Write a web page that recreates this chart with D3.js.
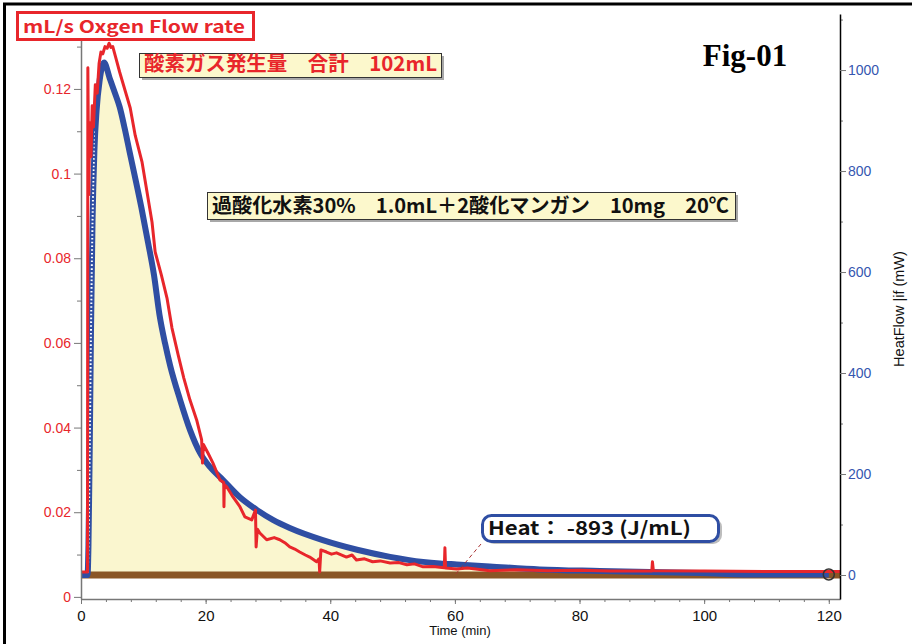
<!DOCTYPE html>
<html>
<head>
<meta charset="utf-8">
<script src="https://cdn.jsdelivr.net/npm/d3@7"></script>
<style>
  html, body { margin: 0; padding: 0; background: #fff; }
  svg { display: block; }
</style>
</head>
<body>
<div id="chart"></div>
<script>
// Oxygen flow rate (mL/s, left axis) - time in minutes
const oxyTime = [0, 1.04, 1.1, 1.25, 1.4, 1.6, 1.8, 2.0, 2.3, 2.6, 2.9, 3.2, 3.5, 3.85, 4.2, 4.5, 4.8, 5.1, 5.6, 6.2,
  7.3, 7.9, 8.7, 9.8, 10.6, 11.4, 11.9, 12.9, 13.8, 14.6, 15.6, 16.5, 17.49, 18.56, 19.36, 19.5, 19.65, 20.37,
  21.18, 22.3, 22.9, 22.94, 23.0, 23.38, 24.39, 25.5, 26.3, 27.4, 28.0, 28.1, 28.3, 28.7, 29.8, 31.0, 31.9, 32.7,
  33.5, 34.3, 35.1, 36.0, 36.7, 37.8, 38.2, 38.3, 38.5, 39.4, 40.2, 41.0, 42.6, 43.5, 44.2, 45.5, 46.8, 48.0, 49.6,
  51.0, 52.3, 53.5, 54.9, 56.5, 58.3, 58.4, 58.5, 60.3, 62, 65.6, 70, 75, 80, 85, 90, 91.6, 91.7, 91.85, 100, 110, 121.8];
const oxyRate = [0.0059, 0.0059, 0.125, 0.095, 0.112, 0.104, 0.116, 0.111, 0.121, 0.119, 0.126, 0.1287, 0.1283, 0.1300,
  0.1296, 0.1308, 0.1298, 0.1300, 0.1273, 0.124, 0.1185, 0.1155, 0.109, 0.1027, 0.0956, 0.0885, 0.0815, 0.076, 0.0706,
  0.0635, 0.0571, 0.0517, 0.0465, 0.0418, 0.0371, 0.0316, 0.036, 0.034, 0.0316, 0.0276, 0.027, 0.0213, 0.0265, 0.026,
  0.0236, 0.0213, 0.0189, 0.0182, 0.0205, 0.0118, 0.016, 0.0151, 0.0135, 0.014, 0.0135, 0.0128, 0.0118, 0.0113, 0.0106,
  0.0099, 0.0094, 0.0083, 0.009, 0.0059, 0.0111, 0.0106, 0.0101, 0.0104, 0.0094, 0.0099, 0.0087, 0.009, 0.0083, 0.0085,
  0.008, 0.0081, 0.0076, 0.0078, 0.0071, 0.0072, 0.0069, 0.0116, 0.0068, 0.0066, 0.0068, 0.0062, 0.0064, 0.0062, 0.0063,
  0.0061, 0.0061, 0.0061, 0.0083, 0.0062, 0.0061, 0.006, 0.006];

// Heat flow (mW, right axis)
const heatTime = [0, 1.05, 1.2, 1.4, 1.6, 1.85, 2.15, 2.5, 3.0, 3.7, 4.6, 5.4, 6.2, 7.0, 7.8, 8.6, 9.7, 10.75, 11.7,
  12.6, 13.5, 14.3, 15.9, 17.5, 19.1, 20.7, 22.8, 25.5, 28.2, 30.8, 33.5, 38.8, 44.3, 49.6, 54.9, 57.6, 60.3, 65.6, 73.6,
  83.3, 99.3, 109, 120];
const heatFlow = [0, 0, 60, 250, 480, 700, 840, 920, 980, 1015, 984, 956, 927, 885, 838, 792, 727, 659, 595,
  515, 458, 415, 347, 287, 242, 214, 188, 154, 129, 109, 93, 69, 50, 36, 26, 23, 21, 17, 11, 8, 4, 1, 1];

// baseline
const baseTime = [0, 121.8];
const baseFlow = [0, 0];

const xTicks = [0, 20, 40, 60, 80, 100, 120];
const xMinor = d3.range(0, 121, 4);
const leftTicks = [0, 0.02, 0.04, 0.06, 0.08, 0.1, 0.12];
const leftLabels = ["0", "0.02", "0.04", "0.06", "0.08", "0.1", "0.12"];
const leftMinor = [0.01, 0.03, 0.05, 0.07, 0.09, 0.11, 0.13];
const rightTicks = [0, 200, 400, 600, 800, 1000];
const rightMinor = [100, 300, 500, 700, 900, 1100];

const W = 912, H = 644;
const RED = "#e8262b", BLUE = "#2f4ea3";
const JP = "'Noto Sans CJK JP', 'Noto Sans', sans-serif";
const SANS = "'Liberation Sans', Arial, sans-serif";

const svg = d3.select("#chart").append("svg").attr("width", W).attr("height", H);

const x = d3.scaleLinear().domain([0, 121.8]).range([81, 840]);
const yL = d3.scaleLinear().domain([-0.0005, 0.1377]).range([599, 14]);
const yR = d3.scaleLinear().domain([-47.5, 1111]).range([599, 14]);

// outer frame
svg.append("rect").attr("x", 4.5).attr("y", 4).attr("width", 1200).attr("height", 1200)
  .attr("fill", "none").attr("stroke", "#000").attr("stroke-width", 3);

const heat = heatTime.map((t, i) => ({ t, v: heatFlow[i] }));
const oxy = oxyTime.map((t, i) => ({ t, v: oxyRate[i] }));
const base = baseTime.map((t, i) => ({ t, v: baseFlow[i] }));

// yellow fill under heat flow
svg.append("path").datum(heat)
  .attr("fill", "#faf6cf")
  .attr("d", d3.area().curve(d3.curveMonotoneX).x(d => x(d.t)).y0(yR(0)).y1(d => yR(d.v)));

// brown baseline band
svg.append("path").datum(base)
  .attr("fill", "none").attr("stroke", "#8a5626").attr("stroke-width", 7)
  .attr("d", d3.line().x(d => x(d.t)).y(d => yR(d.v)));

// heat flow line
const heatLine = d3.line().curve(d3.curveMonotoneX).x(d => x(d.t)).y(d => yR(d.v));
svg.append("path").datum(heat)
  .attr("fill", "none").attr("stroke", BLUE).attr("stroke-width", 6)
  .attr("stroke-linejoin", "round").attr("d", heatLine);

// rising part drawn as open markers
svg.append("clipPath").attr("id", "rise").append("rect")
  .attr("x", x(1.0)).attr("y", yR(880)).attr("width", x(2.2) - x(1.0)).attr("height", yR(0) - yR(880) - 2);
svg.append("path").datum(heat)
  .attr("clip-path", "url(#rise)")
  .attr("fill", "none").attr("stroke", "#fff").attr("stroke-width", 2)
  .attr("stroke-dasharray", "1.6,2.2").attr("d", heatLine);

// oxygen flow line
svg.append("path").datum(oxy)
  .attr("fill", "none").attr("stroke", RED).attr("stroke-width", 3)
  .attr("stroke-linejoin", "round")
  .attr("d", d3.line().x(d => x(d.t)).y(d => yL(d.v)));

// end marker
svg.append("circle").attr("cx", x(heatTime[heatTime.length - 1])).attr("cy", yR(heatFlow[heatFlow.length - 1]))
  .attr("r", 5.5).attr("fill", "none").attr("stroke", "#333").attr("stroke-width", 1.5);

// axes
function styleAxis(g, lineColor, textColor, size) {
  g.select(".domain").attr("stroke", lineColor).attr("stroke-width", 1.5);
  g.selectAll(".tick line").attr("stroke", "#777");
  g.selectAll(".tick text").attr("fill", textColor).style("font-family", SANS).style("font-size", size + "px");
}

const xAxisMinor = svg.append("g").attr("transform", "translate(0,599)")
  .call(d3.axisBottom(x).tickValues(xMinor).tickSize(3).tickFormat(""));
xAxisMinor.select(".domain").remove();
xAxisMinor.selectAll(".tick line").attr("stroke", "#777");
const xAxis = svg.append("g").attr("transform", "translate(0,599)")
  .call(d3.axisBottom(x).tickValues(xTicks).tickSize(5).tickSizeOuter(0).tickPadding(6).tickFormat(d3.format("d")));
styleAxis(xAxis, "#777", "#111", 15);

const lMinor = svg.append("g").attr("transform", "translate(81,0)")
  .call(d3.axisLeft(yL).tickValues(leftMinor).tickSize(4).tickFormat(""));
lMinor.select(".domain").remove();
lMinor.selectAll(".tick line").attr("stroke", "#777");
const lAxis = svg.append("g").attr("transform", "translate(81,0)")
  .call(d3.axisLeft(yL).tickValues(leftTicks).tickSize(7).tickSizeOuter(0).tickPadding(3)
    .tickFormat((d, i) => leftLabels[i]));
styleAxis(lAxis, "#777", RED, 14);

const rMinor = svg.append("g").attr("transform", "translate(840,0)")
  .call(d3.axisRight(yR).tickValues(rightMinor).tickSize(3).tickFormat(""));
rMinor.select(".domain").remove();
rMinor.selectAll(".tick line").attr("stroke", "#777");
const rAxis = svg.append("g").attr("transform", "translate(840,0)")
  .call(d3.axisRight(yR).tickValues(rightTicks).tickSize(6).tickSizeOuter(0).tickPadding(2).tickFormat(d3.format("d")));
styleAxis(rAxis, "#000", "#3556b0", 14);

// axis titles
svg.append("text").attr("x", 460).attr("y", 635).attr("text-anchor", "middle")
  .style("font-family", SANS).style("font-size", "13px").attr("fill", "#111").text("Time (min)");
svg.append("text").attr("transform", "translate(904,309) rotate(-90)").attr("text-anchor", "middle")
  .style("font-family", SANS).style("font-size", "14.5px").attr("fill", "#111").text("HeatFlow |if (mW)");

// title box
svg.append("rect").attr("x", 17.5).attr("y", 12.5).attr("width", 236).attr("height", 27)
  .attr("fill", "#fff").attr("stroke", RED).attr("stroke-width", 3);
svg.append("text").attr("x", 23).attr("y", 33).attr("textLength", 222).attr("lengthAdjust", "spacingAndGlyphs")
  .style("font-family", JP).style("font-weight", "bold").style("font-size", "17px").attr("fill", RED)
  .text("mL/s Oxgen Flow rate");

// annotation boxes
function noteBox(x0, y0, w, h, txt, color, tl) {
  svg.append("rect").attr("x", x0 + 3).attr("y", y0 + 3).attr("width", w).attr("height", h).attr("fill", "#a8a8a8");
  svg.append("rect").attr("x", x0 + 0.5).attr("y", y0 + 0.5).attr("width", w).attr("height", h)
    .attr("fill", "#fcf8cc").attr("stroke", "#333").attr("stroke-width", 1);
  svg.append("text").attr("x", x0 + 5).attr("y", y0 + h - 6).attr("textLength", tl).attr("lengthAdjust", "spacingAndGlyphs")
    .style("font-family", JP).style("font-weight", "bold").style("font-size", "20px").attr("fill", color).text(txt);
}
noteBox(139, 53, 302, 24, "酸素ガス発生量　合計　102mL", RED, 293);
noteBox(207, 192, 528, 27, "過酸化水素30%　1.0mL＋2酸化マンガン　10mg　20℃", "#111", 517);

// Fig label
svg.append("text").attr("x", 745).attr("y", 66).attr("text-anchor", "middle")
  .style("font-family", "'Liberation Serif', 'Times New Roman', serif").style("font-weight", "bold")
  .style("font-size", "31px").attr("fill", "#000").text("Fig-01");

// heat callout
svg.append("line").attr("x1", 481).attr("y1", 544).attr("x2", x(60)).attr("y2", yR(0))
  .attr("stroke", "#a33").attr("stroke-width", 1).attr("stroke-dasharray", "4,3");
svg.append("rect").attr("x", 485).attr("y", 518).attr("width", 237).attr("height", 26).attr("rx", 9)
  .attr("fill", "#bdbdbd");
svg.append("rect").attr("x", 482.5).attr("y", 515.5).attr("width", 236).attr("height", 26).attr("rx", 9)
  .attr("fill", "#fff").attr("stroke", BLUE).attr("stroke-width", 3);
svg.append("text").attr("x", 488).attr("y", 535).attr("textLength", 203).attr("lengthAdjust", "spacingAndGlyphs")
  .style("font-family", JP).style("font-weight", "bold").style("font-size", "19px").attr("fill", "#111")
  .text("Heat： -893 (J/mL)");
</script>
</body>
</html>
